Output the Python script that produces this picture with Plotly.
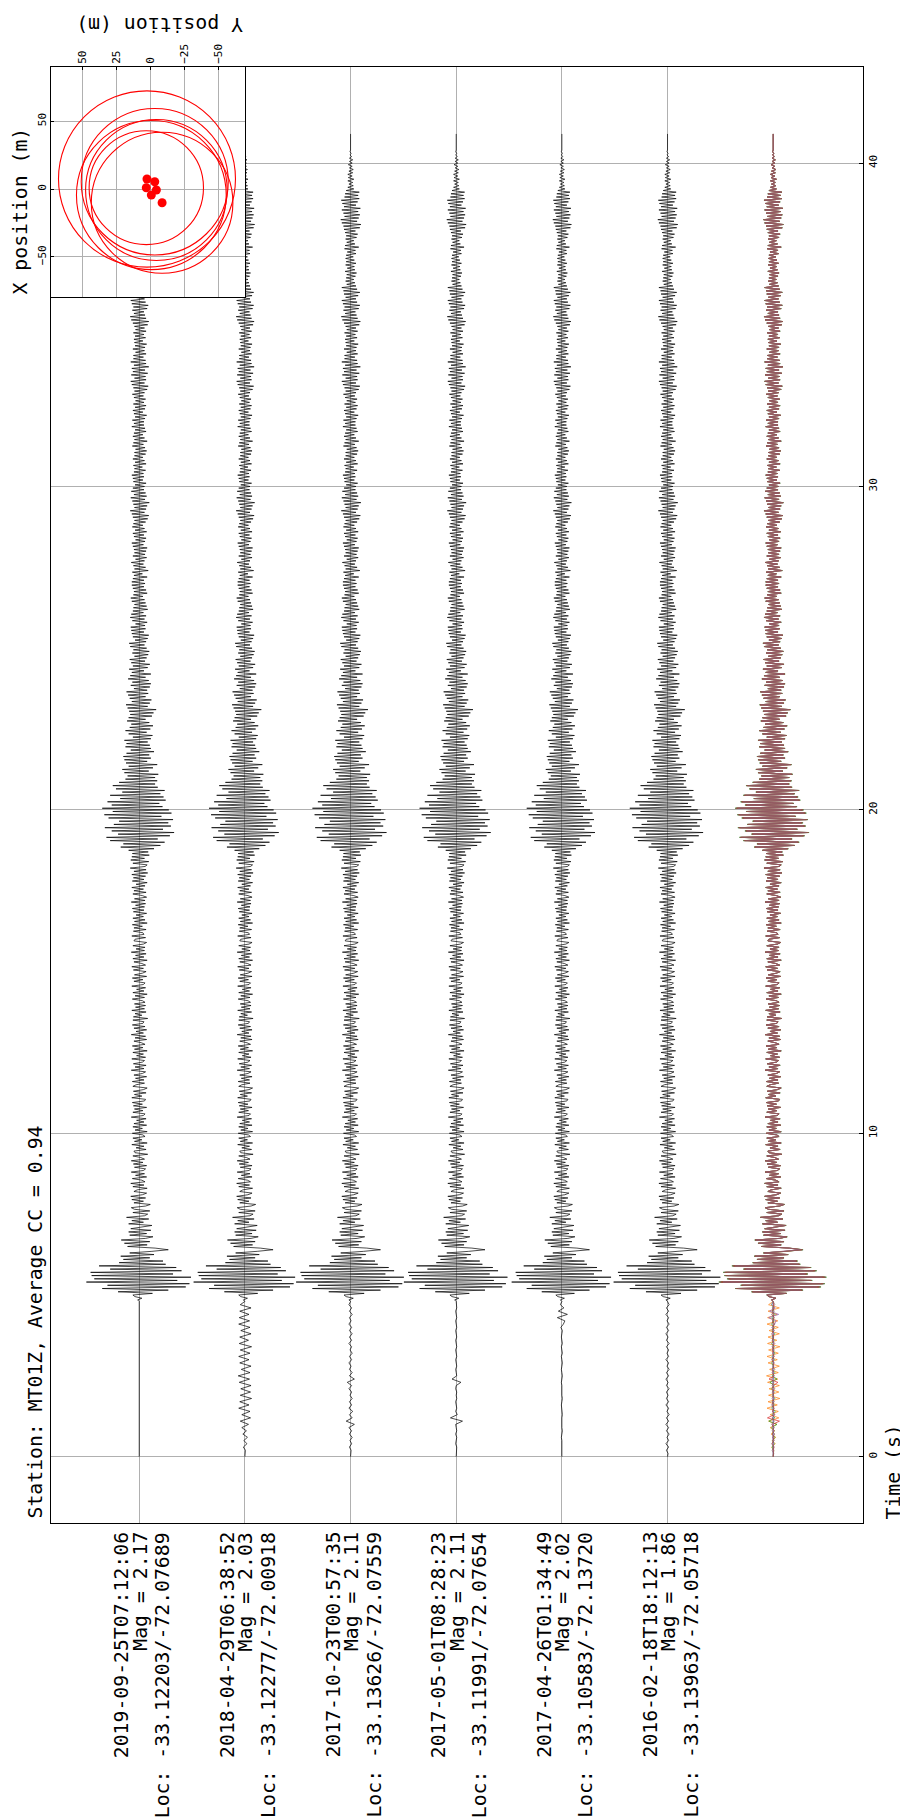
import numpy as np
import plotly.graph_objects as go

# ---- event info (one entry per trace, first = left-most trace) ----
station = "MT01Z"
avg_cc = 0.94
event_times = ["2019-09-25T07:12:06", "2018-04-29T06:38:52", "2017-10-23T00:57:35",
               "2017-05-01T08:28:23", "2017-04-26T01:34:49", "2016-02-18T18:12:13"]
event_mags = [2.17, 2.03, 2.11, 2.11, 2.02, 1.86]
event_locs = ["-33.12203/-72.07689", "-33.12277/-72.00918", "-33.13626/-72.07559",
              "-33.11991/-72.07654", "-33.10583/-72.13720", "-33.13963/-72.05718"]

# ---- waveforms, amplitude in % of the max ----
# pre-event noise, 0.0 - 4.7 s, one sample every 0.1 s
pre_dt = 0.1
pre_2019 = [0] * 48
pre_2018 = [0, 0, 1, -3, 4, -2, 5, -4, 3, -6,
            7, -9, 11, -6, 10, -12, 8, -10, 13, -9,
            11, -8, 12, -11, 9, -13, 10, -7, 12, -10,
            8, -12, 10, -9, 13, -11, 7, -10, 12, -8,
            10, -12, 9, -11, 8, -10, 12, -9]
pre_2017a = [0, 0, 1, -2, 2, -1, 3, -2, 2, -3,
             7, -8, 3, -2, 4, -3, 2, -2, 3, -1,
             2, -3, 2, -6, 7, -2, 3, -2, 1, -3,
             2, -2, 3, -1, 2, -3, 2, -2, 3, -2,
             2, -3, 1, -2, 3, -2, 2, -3]
pre_2017b = [0, 0, 0, 1, -1, 0, 1, -1, 1, 0,
             -1, 12, -11, 2, -1, 1, 0, -1, 1, 0,
             1, -1, 0, 9, -8, 1, 0, -1, 1, 0,
             -1, 1, 0, -1, 1, 0, -1, 1, 0, -1,
             1, 0, -1, 1, 0, -1, 1, 0]
pre_2017c = [0, 0, 0, 0, 1, 0, -1, 0, 1, 0,
             0, -1, 0, 1, 0, 0, -1, 0, 1, 0,
             0, 1, 0, -1, 0, 1, 0, -1, 0, 1,
             0, -1, 1, 0, -1, 1, 0, -1, 0, 1,
             -2, 3, 6, -9, 11, -7, 4, -3]
pre_2016 = [0, 1, -2, 2, -3, 2, -1, 3, -2, 2,
            -3, 2, -2, 3, -1, 2, -3, 2, -2, 1,
            -2, 3, -2, 1, -3, 2, -2, 3, -1, 2,
            -3, 2, -1, 2, -2, 3, -2, 1, -3, 2,
            -2, 3, -1, 2, -3, 2, -2, 3]
pre_noise = [pre_2019, pre_2018, pre_2017a, pre_2017b, pre_2017c, pre_2016]

# common waveform from 4.8 s onward, one sample every 0.05 s
coda_start = 4.8
coda_dt = 0.05
coda = [0, -3, 5, -8,
        -12, 25, -40, 55, -70, 88, -60, 95, -100, 72, -85, 98, -90, 64, -92, 80, -55, 70, -76, 50,
        -38, 45, -30, 20, -35, 28, -18, 24, 55, 30, -22, 15, -28, 20, -34, 12, 26, -18, 14, -20,
        22, -16, 10, 24, -20, 8, -14, 18, -24, 10, 16, -12, 20, -9, -15, 12, 21, -10, 8, -14,
        12, -16, 6, 14, -10, -4, 15, -12, 9, -16, 11, 5, -13, 14, -7, 10, -15, 8, 12, -9,
        14, -11, 7, -15, 10, 3, -12, 16, -8, -10, 13, -6, 9, -14, 15, -9, 5, -12, 11, 7,
        -13, 15, -8, 6, -12, 14, -10, 9, -5, 13, -15, 8, 11, -12, 7, -9, 14, -11, 6, -13,
        10, 12, -14, 5, -9, 13, -11, 8, 15, -12, -6, 10, -13, 9, -7, 14, -10, 6, 12, -15,
        9, -8, 13, -11, 6, 10, -14, 12, -5, 8, -12, 15, -9, 7, -13, 11, 4, -10, 14, -8,
        12, -15, 8, -6, 14, -10, 11, -13, 7, 9, -12, 16, -11, 5, -8, 13, -14, 10, -7, 12,
        -9, 11, 6, -13, 10, -8, 15, -12, 9, -5, 12, -14, 8, 11, -10, 7, -13, 14, -9, 6,
        13, -11, 8, -14, 12, 5, -10, 15, -12, 9, -7, 13, -15, 10, -6, 11, -12, 8, 14, -10,
        -8, 12, -14, 9, 7, -11, 13, -10, 6, -13, 15, -9, 11, -12, 8, -6, 14, -11, 9, -13,
        10, -7, 12, -15, 11, -9, 14, 6, -12, 13, -10, 8, -14, 11, -6, 15, -13, 9, -11, 12,
        -14, 16, -10, 13, -17, 11, 15, -12, 18, -16, 10, -14, 19, -13, 17, -20, 28, -35, 40, -30,
        48, -55, 35, -62, 58, -40, 66, -52, 45, -65, 60, -48, 55, -38, 64, -58, 42, -66, 61, -50,
        56, -70, 44, -52, 38, -60, 50, -36, 46, -55, 40, -32, 48, -44, 35, -50, 30, -38, 34, -26,
        30, -22, 36, -28, 18, -32, 26, -20, 34, -25, 15, -28, 22, -30, 19, -24, 28, -16, 22, -26,
        20, -24, 16, -28, 22, -12, 25, -20, 14, -26, 21, -18, 26, -15, 19, -23, 12, -20, 24, -17,
        27, -19, 32, -22, 16, -25, 20, -14, 23, -18, 12, -21, 17, -24, 15, -10, 20, -16, 22, -13,
        18, -21, 12, -17, 22, -14, 9, -19, 16, -12, 20, -15, 11, -18, 14, -9, 17, -13, 19, -11,
        14, -17, 10, -19, 13, -8, 16, -12, 18, -14, 9, -15, 12, -16, 11, -7, 15, -13, 10, -17,
        13, -15, 8, -12, 16, -11, 14, -9, 12, -14, 10, -16, 7, -11, 15, -10, 13, -12, 9, -14,
        11, -14, 9, -12, 15, -10, 6, -13, 17, -9, 12, -11, 8, -15, 10, -7, 14, -12, 11, -9,
        13, -10, 15, -12, 8, -14, 11, -7, 13, -10, 9, -12, 14, -8, 10, -13, 7, -11, 12, -9,
        16, -12, 18, -14, 10, -17, 13, -9, 15, -11, 19, -13, 11, -16, 14, -10, 12, -15, 9, -12,
        10, -8, 13, -11, 7, -12, 9, -14, 8, -10, 12, -9, 6, -11, 13, -8, 10, -12, 7, -9,
        12, -9, 14, -7, 11, -13, 8, -11, 15, -9, 10, -12, 7, -10, 13, -8, 11, -14, 9, -10,
        9, -13, 11, -8, 14, -10, 7, -12, 11, -8, 13, -11, 9, -7, 12, -10, 8, -13, 10, -9,
        15, -11, 17, -14, 10, -16, 13, -9, 12, -15, 16, -12, 11, -14, 18, -10, 13, -16, 12, -11,
        8, -11, 13, -7, 10, -12, 11, -8, 14, -9, 7, -10, 12, -8, 9, -11, 13, -7, 10, -9,
        16, -12, 18, -15, 13, -17, 11, -10, 9, -13, 15, -11, 17, -14, 12, -16, 10, -9, 14, -12,
        17, -13, 12, -16, 10, -7, 8, -9, 6, -8, 9, -7, 11, -10, 8, -6, 7, -9, 10, -8,
        7, -9, 5, -8, 10, -6, 9, -11, 15, -10, 8, -7, 6, -9, 11, -8, 13, -10, 9, -12,
        17, -13, 19, -16, 12, -18, 15, -11, 17, -13, 14, -16, 18, -12, 10, -15, 13, -17, 16, -11,
        14, -10, 16, -8, 6, -5, 5, -3, 4, -5, 6, -4, 3, -5, 4, -3, 5, -2, 3, -4,
        3, -2, 4, -2, 2, -1, 1, -1, 0, 0, 0, 0, 0, 0, 0, 0, 0, 0, 0]
trace_gain = [1.0, 0.97, 1.03, 0.99, 0.95, 1.02]
stack_colors = ["#1f77b4", "#ff7f0e", "#2ca02c", "#d62728", "#9467bd", "#8c564b"]

# ---- inset: relative locations (m) and radii ----
loc_y = [2.5, -3.2, 3.0, -4.4, -0.7, -8.6]     # Y position (horizontal in inset)
loc_x = [7.4, 5.4, 1.0, -0.7, -4.4, -10.1]     # X position (vertical in inset)
loc_r = [65, 54, 42, 52, 55, 52]

time_ticks = [0, 10, 20, 30, 40]
inset_y_ticks = [50, 25, 0, -25, -50]
inset_x_ticks = [-50, 0, 50]

FONT = "DejaVu Sans Mono"
# the page puts the figure 8 px in from the top-left corner
W, H = 900, 1810
L, R, T, B = 43, 45, 59, 295
pw, ph = W - L - R, H - T - B
OFF = 8


def px(xp):  # page x -> paper
    return (xp - OFF - L) / pw


def py(yp):  # page y -> paper
    return (H - B - (yp - OFF)) / ph


t_pre = np.arange(48) * pre_dt
t_coda = coda_start + np.arange(len(coda)) * coda_dt
t_all = np.concatenate([t_pre, t_coda])

fig = go.Figure()
half = 0.5  # trace half-width in spacing units
n = len(event_times)
for k in range(n):
    amp = np.array(pre_noise[k] + coda, dtype=float) / 100.0 * trace_gain[k]
    fig.add_trace(go.Scatter(x=k + half * amp, y=t_all, mode="lines",
                             line=dict(color="black", width=0.7), hoverinfo="skip"))

for k in range(n):
    amp = np.array(pre_noise[k] + coda, dtype=float) / 100.0 * trace_gain[k]
    fig.add_trace(go.Scatter(x=n + half * amp, y=t_all, mode="lines",
                             line=dict(color=stack_colors[k], width=0.7), hoverinfo="skip"))

# inset event dots
fig.add_trace(go.Scatter(x=loc_y, y=loc_x, mode="markers", xaxis="x2", yaxis="y2",
                         marker=dict(color="red", size=9), hoverinfo="skip"))

shapes = []
for cy, cx, r in zip(loc_y, loc_x, loc_r):
    shapes.append(dict(type="circle", xref="x2", yref="y2", x0=cy - r, x1=cy + r,
                       y0=cx - r, y1=cx + r, line=dict(color="red", width=1.1),
                       layer="above"))

grid = "#b0b0b0"
fig.update_layout(
    width=W, height=H,
    margin=dict(l=L, r=R, t=T, b=B),
    plot_bgcolor="white", paper_bgcolor="white",
    showlegend=False,
    font=dict(family=FONT, size=11, color="black"),
    shapes=shapes,
    xaxis=dict(domain=[0, 1], range=[-0.835, 6.85], tickvals=list(range(n)),
               showticklabels=False, ticks="", showgrid=True, gridcolor=grid,
               gridwidth=0.8, zeroline=False, showline=True, mirror=True,
               linecolor="black", linewidth=1),
    yaxis=dict(range=[-2.05, 42.97], side="right", tickvals=time_ticks,
               ticks="inside", ticklen=4, tickcolor="black", tickangle=-90,
               tickfont=dict(size=11), showgrid=True, gridcolor=grid, gridwidth=0.8,
               zeroline=False, showline=True, mirror=True, linecolor="black",
               linewidth=1),
    xaxis2=dict(domain=[0, px(245)], anchor="y2", side="top", range=[73, -69.5],
                tickvals=inset_y_ticks, tickangle=-90, ticks="inside", ticklen=3,
                tickcolor="black", tickfont=dict(size=11), showgrid=True,
                gridcolor=grid, gridwidth=0.8, zeroline=False, showline=True,
                mirror=True, linecolor="black", linewidth=1),
    yaxis2=dict(domain=[py(297), 1], anchor="x2", range=[-79.6, 90],
                tickvals=inset_x_ticks, tickangle=-90, ticks="inside", ticklen=3,
                tickcolor="black", tickfont=dict(size=11), showgrid=True,
                gridcolor=grid, gridwidth=0.8, zeroline=False, showline=True,
                mirror=True, linecolor="black", linewidth=1),
)

big = dict(family=FONT, size=19.8, color="black")
ann = [
    dict(text=f"Station: {station}, Average CC = {avg_cc:.2f}", x=px(35), y=py(1521),
         xanchor="center", yanchor="bottom"),
    dict(text="Time (s)", x=px(893), y=py(1521), xanchor="center", yanchor="bottom"),
    dict(text="X position (m)", x=px(20), y=py(297), xanchor="center", yanchor="bottom"),
]
for a in ann:
    a.update(xref="paper", yref="paper", textangle=-90, showarrow=False, font=big)
    fig.add_annotation(**a)

fig.add_annotation(text="Y position (m)", xref="paper", yref="paper", x=px(245), y=py(25),
                   xanchor="right", yanchor="middle", textangle=180, showarrow=False,
                   font=big)

for k in range(n):
    lines = [event_times[k], f"Mag = {event_mags[k]:.2f}", f"Loc: {event_locs[k]}"]
    for line, shift in zip(lines, [-18, 1, 23]):
        fig.add_annotation(text=line, xref="x", yref="paper", x=k, xshift=shift,
                           y=py(1530), xanchor="center", yanchor="top", textangle=-90,
                           showarrow=False, font=big)

fig.write_html("out.html")
